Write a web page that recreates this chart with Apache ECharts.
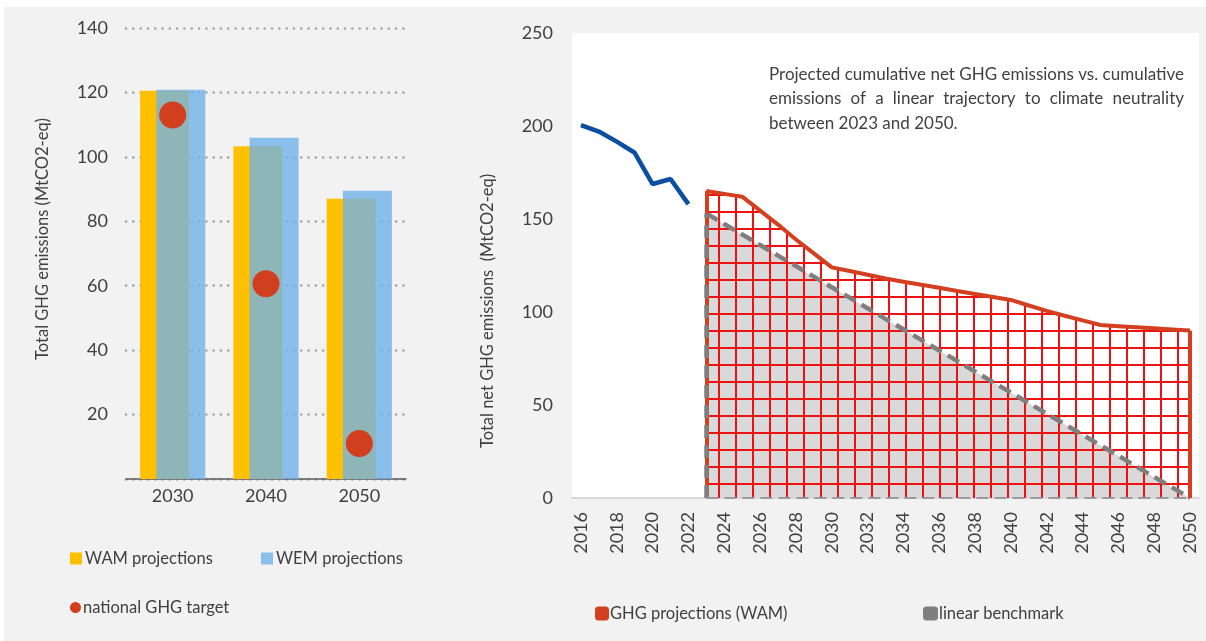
<!DOCTYPE html>
<html>
<head>
<meta charset="utf-8">
<script src="https://cdn.jsdelivr.net/npm/echarts@6/dist/echarts.min.js"></script>
<style>
html,body{margin:0;padding:0;background:#ffffff;}
#main{position:absolute;left:4px;top:7px;width:1202px;height:634px;background:#f2f2f2;}
</style>
</head>
<body>
<div id="main"></div>
<script>
// ---- Left chart data ----
const barCats = ['2030', '2040', '2050'];
const wamBars = [120.5, 103.3, 87.0];
const wemBars = [120.8, 105.9, 89.5];
const targets = [113.0, 60.6, 11.0];

// ---- Right chart data ----
const years = ['2016','2017','2018','2019','2020','2021','2022','2023','2024','2025',
  '2026','2027','2028','2029','2030','2031','2032','2033','2034','2035','2036','2037',
  '2038','2039','2040','2041','2042','2043','2044','2045','2046','2047','2048','2049','2050'];
const history = [200.5, 197.0, 191.6, 185.6, 168.8, 171.5, 158.0,
  null,null,null,null,null,null,null,null,null,null,null,null,null,null,null,null,null,null,null,null,null,null,null,null,null,null,null,null];
const wamProj = [null,null,null,null,null,null,null,
  165.0, 163.5, 162.0, 154.5, 147.0, 139.0, 131.5, 124.0, 122.0, 120.0, 118.0, 116.3, 114.6,
  113.0, 111.3, 109.7, 108.1, 106.5, 103.5, 100.6, 98.0, 95.5, 93.0, 92.4, 91.8, 91.2, 90.6, 90.0];
const benchmark = [null,null,null,null,null,null,null,
  153.0, 147.3, 141.7, 136.0, 130.3, 124.7, 119.0, 113.3, 107.7, 102.0, 96.3, 90.7, 85.0,
  79.3, 73.7, 68.0, 62.3, 56.7, 51.0, 45.3, 39.7, 34.0, 28.3, 22.7, 17.0, 11.3, 5.7, 0.0];

const noteLines = [
  'Projected cumulative net GHG emissions vs. cumulative',
  'emissions of a linear trajectory to climate neutrality',
  'between 2023 and 2050.'
];

const TXT = '#404040';
const FONT = 'Lato';
const OX = 4, OY = 7; // container offset

// red grid pattern
const pat = document.createElement('canvas');
pat.width = 17; pat.height = 17;
const pc = pat.getContext('2d');
pc.strokeStyle = '#ee1111';
pc.lineWidth = 2;
pc.beginPath();
pc.moveTo(1, 0); pc.lineTo(1, 17);
pc.moveTo(0, 1); pc.lineTo(17, 1);
pc.stroke();

// justified annotation text (words placed by measured widths)
const NOTE_FONT = '17px ' + FONT;
const noteLeft = 769 - OX, noteRight = 1184 - OX, noteTop = 66 - OY, noteLH = 24.5;
const mctx = document.createElement('canvas').getContext('2d');
mctx.font = NOTE_FONT;
const noteGraphics = [];
noteLines.forEach((line, li) => {
  const words = line.split(' ');
  const y = noteTop + li * noteLH;
  if (li === noteLines.length - 1) {
    noteGraphics.push({ type: 'text', x: noteLeft, y: y,
      style: { text: line, fill: TXT, font: NOTE_FONT } });
    return;
  }
  const widths = words.map(w => mctx.measureText(w).width);
  const total = widths.reduce((a, b) => a + b, 0);
  const gap = (noteRight - noteLeft - total) / (words.length - 1);
  let x = noteLeft;
  words.forEach((w, i) => {
    noteGraphics.push({ type: 'text', x: x, y: y, style: { text: w, fill: TXT, font: NOTE_FONT } });
    x += widths[i] + gap;
  });
});

const chart = echarts.init(document.getElementById('main'));

const legendText = { color: TXT, fontSize: 16.5, fontFamily: FONT };
const option = {
  animation: false,
  textStyle: { fontFamily: FONT, color: TXT },
  grid: [
    { left: 126 - OX, top: 28 - OY, width: 280, height: 451 },
    { left: 572 - OX, top: 33 - OY, width: 627, height: 465, show: true,
      backgroundColor: '#ffffff', borderWidth: 0 }
  ],
  xAxis: [
    {
      gridIndex: 0, type: 'category', data: barCats,
      axisLine: { lineStyle: { color: '#595959', width: 1.5 } },
      axisTick: { show: false },
      axisLabel: { color: TXT, fontSize: 18, fontFamily: FONT, margin: 8 }
    },
    {
      gridIndex: 1, type: 'category', data: years, boundaryGap: true,
      axisLine: { lineStyle: { color: '#d9d9d9', width: 2 } },
      axisTick: { show: false },
      axisLabel: { color: TXT, fontSize: 18, fontFamily: FONT, rotate: 90, interval: 1, margin: 14 }
    }
  ],
  yAxis: [
    {
      gridIndex: 0, type: 'value', min: 0, max: 140, interval: 20,
      axisLine: { show: false }, axisTick: { show: false },
      axisLabel: { color: TXT, fontSize: 18, fontFamily: FONT, margin: 18,
        formatter: v => (v === 0 ? '' : String(v)) },
      splitLine: { lineStyle: { color: '#a6a6a6', width: 2.6, type: [0.1, 7.2], cap: 'round' } }
    },
    {
      gridIndex: 1, type: 'value', min: 0, max: 250, interval: 50,
      axisLine: { show: false }, axisTick: { show: false },
      axisLabel: { color: TXT, fontSize: 18, fontFamily: FONT, margin: 19 },
      splitLine: { show: false }
    }
  ],
  legend: [
    { left: 65 - OX, top: 545 - OY, itemWidth: 12, itemHeight: 12, itemGap: 0, icon: 'rect',
      textStyle: Object.assign({ padding: [0, 0, 0, -2] }, legendText),
      data: ['WAM projections'] },
    { left: 256 - OX, top: 545 - OY, itemWidth: 12, itemHeight: 12, itemGap: 0, icon: 'rect',
      textStyle: Object.assign({ padding: [0, 0, 0, -2] }, legendText),
      data: ['WEM projections'] },
    { left: 65 - OX, top: 594 - OY, itemWidth: 11, itemHeight: 11, itemGap: 0, icon: 'circle',
      textStyle: Object.assign({ padding: [0, 0, 0, -3] }, legendText),
      data: ['national GHG target'] },
    { left: 590 - OX, top: 600 - OY, itemWidth: 14, itemHeight: 14, itemGap: 0, icon: 'roundRect',
      textStyle: Object.assign({ padding: [0, 0, 0, -4] }, legendText),
      data: [{ name: 'GHG projections (WAM)', itemStyle: { color: '#d4401f' } }] },
    { left: 918 - OX, top: 600 - OY, itemWidth: 15, itemHeight: 14, itemGap: 0, icon: 'roundRect',
      textStyle: Object.assign({ padding: [0, 0, 0, -4] }, legendText),
      data: [{ name: 'linear benchmark', itemStyle: { color: '#7f7f7f' } }] }
  ],
  graphic: [
    { type: 'text', x: 43 - OX, y: 239 - OY, rotation: Math.PI / 2,
      style: { text: 'Total GHG emissions (MtCO2-eq)', fill: TXT, font: '16.5px ' + FONT,
        align: 'center', verticalAlign: 'middle' } },
    { type: 'text', x: 488 - OX, y: 311 - OY, rotation: Math.PI / 2,
      style: { text: 'Total net GHG emissions  (MtCO2-eq)', fill: TXT, font: '16.5px ' + FONT,
        align: 'center', verticalAlign: 'middle' } }
  ].concat(noteGraphics),
  series: [
    { name: 'WAM projections', type: 'bar', xAxisIndex: 0, yAxisIndex: 0, data: wamBars,
      barWidth: 49, barGap: '-67%', itemStyle: { color: '#ffc000' }, z: 2 },
    { name: 'WEM projections', type: 'bar', xAxisIndex: 0, yAxisIndex: 0, data: wemBars,
      barWidth: 49, itemStyle: { color: 'rgba(112,178,233,0.79)' }, z: 3 },
    { name: 'national GHG target', type: 'scatter', xAxisIndex: 0, yAxisIndex: 0, data: targets,
      symbolSize: 27, itemStyle: { color: '#d13f1f', opacity: 1 }, z: 5 },

    { name: 'history', type: 'line', xAxisIndex: 1, yAxisIndex: 1, data: history,
      showSymbol: false, symbol: 'none', lineStyle: { color: '#0b4ea2', width: 4.5 }, z: 4 },
    { name: 'benchmarkArea', type: 'line', xAxisIndex: 1, yAxisIndex: 1, data: benchmark,
      symbol: 'none', lineStyle: { width: 0 }, areaStyle: { color: '#d9d9d9', opacity: 1 }, z: 1 },
    { name: 'GHG projections (WAM)', type: 'line', xAxisIndex: 1, yAxisIndex: 1, data: wamProj,
      symbol: 'none', lineStyle: { color: '#d4401f', width: 4 },
      itemStyle: { color: '#d4401f' },
      areaStyle: { color: { image: pat, repeat: 'repeat' }, opacity: 1 }, z: 2,
      markLine: { silent: true, symbol: 'none', label: { show: false },
        lineStyle: { color: '#d4401f', width: 4, type: 'solid' },
        data: [
          [{ coord: ['2023', 0] }, { coord: ['2023', 165] }],
          [{ coord: ['2050', 0] }, { coord: ['2050', 90] }]
        ] } },
    { name: 'linear benchmark', type: 'line', xAxisIndex: 1, yAxisIndex: 1, data: benchmark,
      symbol: 'none', lineStyle: { color: '#7f7f7f', width: 4.5, type: [13, 7] },
      itemStyle: { color: '#7f7f7f' }, z: 3,
      markLine: { silent: true, symbol: 'none', label: { show: false },
        lineStyle: { color: '#7f7f7f', width: 4.5, type: [13, 7] },
        data: [
          [{ coord: ['2023', 0] }, { coord: ['2023', 153] }],
          [{ coord: ['2023', 0], lineStyle: { color: '#9a9a9a', width: 2, type: [12, 6] } }, { coord: ['2050', 0] }]
        ] } }
  ]
};
chart.setOption(option);
</script>
</body>
</html>
